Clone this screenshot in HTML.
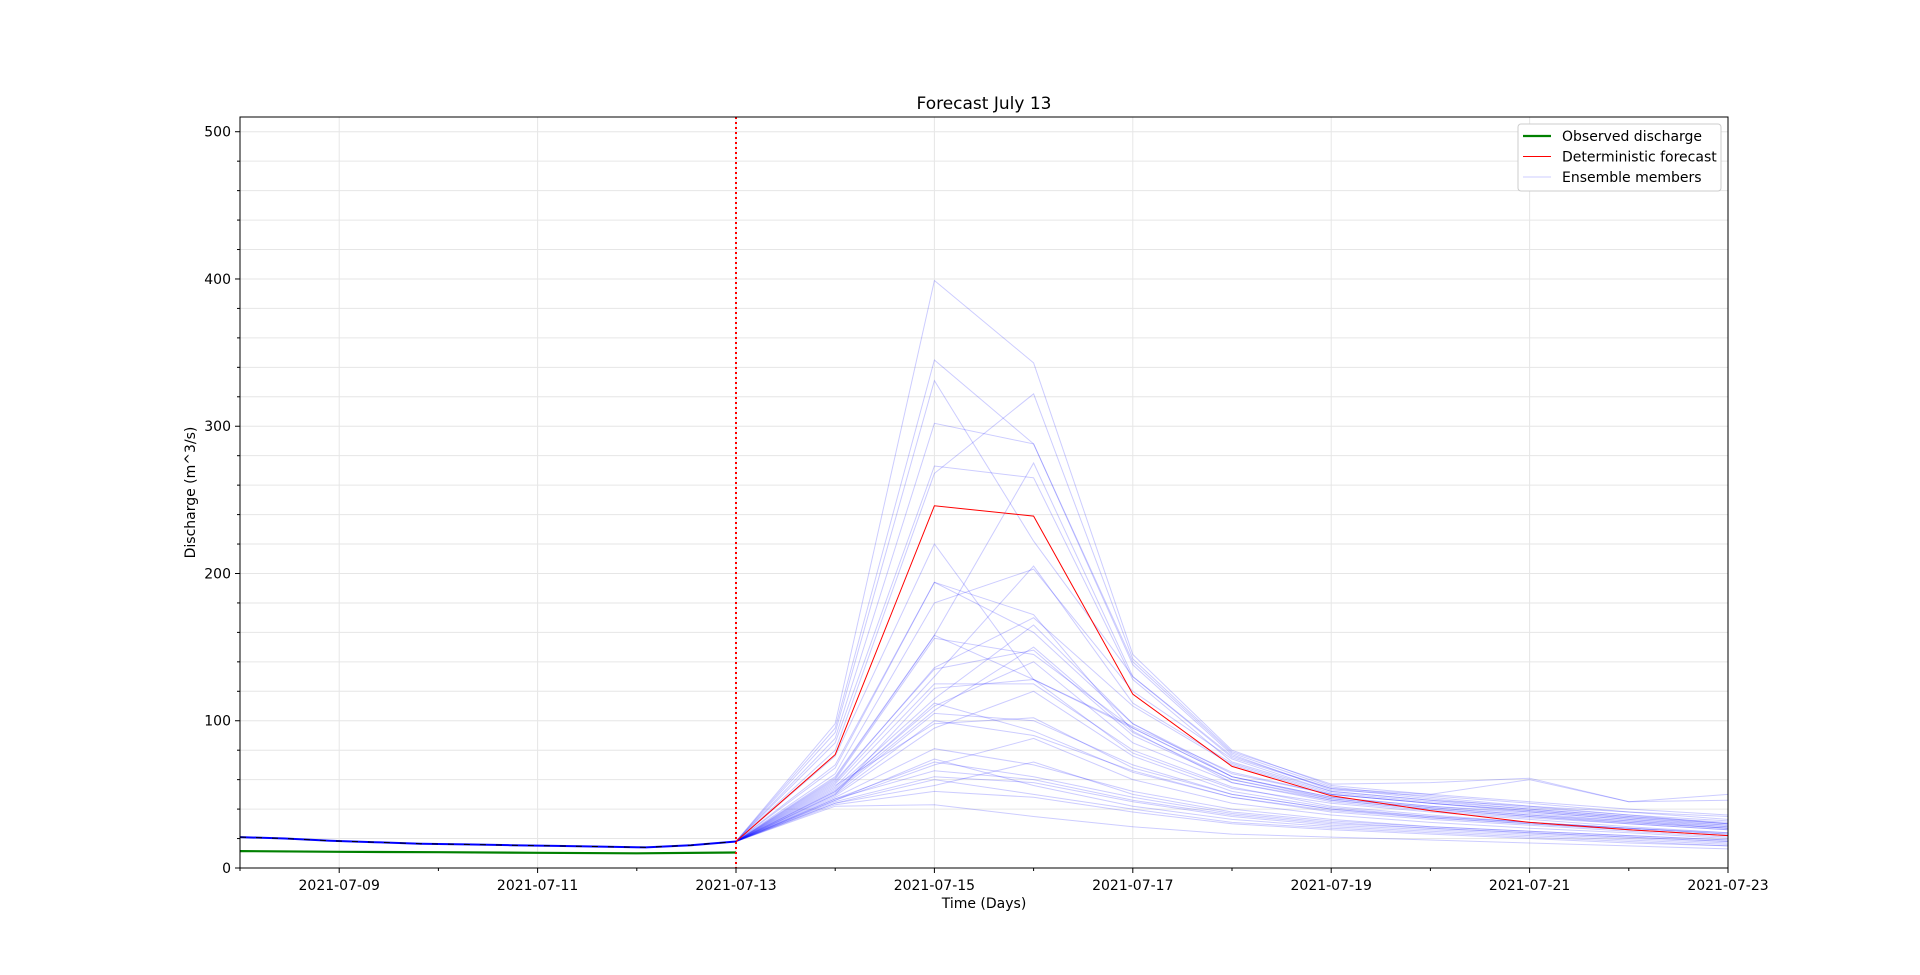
<!DOCTYPE html>
<html><head><meta charset="utf-8"><style>
html,body{margin:0;padding:0;background:#fff;}
svg{display:block;font-family:"DejaVu Sans","Liberation Sans",sans-serif;}
</style></head><body>
<svg id="chart" width="1920" height="975"></svg>
<script>
const observed=[11.5,11,10.7,10.3,10,10.5,11,10.5,10,10,10];
const simVals=[21,20,18.5,17.5,16.5,16,15.5,15,14.5,14,15.5,18];
const detForecast=[18,77,246,239,118,69,49,39,31,26,22];
const ensemble=[
[18,98,399,343,145,80,56,50,45,40,36],
[18,95,345,288,140,78,55,48,42,38,33],
[18,92,331,222,130,76,54,50,60,45,50],
[18,88,302,288,138,77,53,49,44,38,35],
[18,85,273,265,128,72,52,46,42,36,30],
[18,80,268,322,142,79,57,58,61,45,46],
[18,76,220,128,95,62,48,42,38,33,28],
[18,70,194,160,98,64,50,44,39,34,30],
[18,68,194,172,93,58,46,40,35,31,27],
[18,64,180,203,120,74,52,46,40,35,31],
[18,62,158,275,130,75,54,47,41,36,32],
[18,60,156,145,95,62,48,42,37,32,28],
[18,58,136,170,110,70,50,44,39,34,29],
[18,57,130,205,112,71,51,45,40,35,30],
[18,55,125,125,80,55,42,36,31,27,24],
[18,54,115,165,98,62,47,41,36,32,27],
[18,53,110,140,85,58,45,39,34,30,26],
[18,52,107,150,92,60,46,40,35,30,26],
[18,51,105,100,70,50,40,34,30,26,22],
[18,50,100,90,66,48,38,33,29,25,21],
[18,49,95,120,76,52,41,35,31,27,23],
[18,48,81,70,52,40,33,28,25,22,19],
[18,47,72,62,48,37,31,27,24,21,18],
[18,46,70,88,60,44,36,31,27,24,20],
[18,45,62,58,45,35,29,26,23,20,17],
[18,44,60,50,40,31,27,24,21,18,15],
[18,43,52,48,38,30,26,23,20,17,15],
[18,42,43,35,28,23,21,19,17,15,13],
[18,50,122,128,78,54,44,38,33,28,24],
[18,56,98,102,68,50,40,35,31,27,23],
[18,59,135,148,90,60,47,41,36,31,27],
[18,47,66,60,46,36,30,27,24,21,18],
[18,44,56,72,50,38,32,28,25,22,19],
[18,52,112,93,65,48,39,34,30,26,22],
[18,61,158,128,96,65,50,44,38,33,29],
[18,46,74,56,42,33,28,25,22,19,16]
];
const xTickLabels=["2021-07-09","2021-07-11","2021-07-13","2021-07-15","2021-07-17","2021-07-19","2021-07-21","2021-07-23"];
const xTickDays=[1,3,5,7,9,11,13,15];
const yTicks=[0,100,200,300,400,500];

const L=240,R=1728,T=117,B=868,XMAX=15,YMAX=510;
const X=d=>L+(d/XMAX)*(R-L);
const Y=v=>B-(v/YMAX)*(B-T);
const NS="http://www.w3.org/2000/svg";
const svg=document.getElementById('chart');
function el(tag,attrs,parent){const e=document.createElementNS(NS,tag);for(const k in attrs)e.setAttribute(k,attrs[k]);(parent||svg).appendChild(e);return e;}
const clip=el('clipPath',{id:'clip'});el('rect',{x:L,y:T,width:R-L,height:B-T},clip);

const grid=el('g',{});


for(let v=0;v<=YMAX;v+=20){el('line',{x1:L,x2:R,y1:Y(v),y2:Y(v),stroke:'#e6e6e6','stroke-width':1},grid);}
xTickDays.forEach(d=>el('line',{x1:X(d),x2:X(d),y1:T,y2:B,stroke:'#e6e6e6'},grid));

const plot=el('g',{'clip-path':'url(#clip)'});
function poly(vals,start,step,attrs,name){
  const p=vals.map((v,i)=>X(start+i*step).toFixed(1)+','+Y(v).toFixed(1)).join(' ');
  const e=el('polyline',Object.assign({points:p,fill:'none'},attrs),plot);
  
  
  return e;
}
ensemble.forEach(m=>poly(m,5,1,{stroke:'rgba(0,0,255,0.2)','stroke-width':1},'ensemble-member'));
poly(observed.slice(0,6),0,1,{stroke:'#008000','stroke-width':2.2},'observed-line');
poly(simVals,0,5/11,{stroke:'#0000ff','stroke-width':2},'simulated-line');
poly(simVals,0,5/11,{stroke:'#000','stroke-width':1,'stroke-dasharray':'6,10'},'simulated-dashes');
poly(detForecast,5,1,{stroke:'#ff0000','stroke-width':1},'deterministic-line');
const fl=el('line',{x1:X(5),x2:X(5),y1:T,y2:B,stroke:'#ff0000','stroke-width':2,'stroke-dasharray':'2,3'});



const frame=el('rect',{x:L,y:T,width:R-L,height:B-T,fill:'none',stroke:'#000','stroke-width':1});



for(let d=0;d<=15;d++){el('line',{x1:X(d),x2:X(d),y1:B,y2:B+(xTickDays.includes(d)?5:3),stroke:'#000'});}
xTickDays.forEach((d,i)=>{const t=el('text',{x:X(d),y:B+22,'text-anchor':'middle','font-size':14});t.textContent=xTickLabels[i];
});
for(let v=0;v<=YMAX;v+=20){el('line',{x1:L,x2:L-(v%100===0?5:3),y1:Y(v),y2:Y(v),stroke:'#000'});}
yTicks.forEach(v=>{const t=el('text',{x:L-9,y:Y(v)+5,'text-anchor':'end','font-size':14});t.textContent=v;
});

const title=el('text',{x:(L+R)/2,y:109,'text-anchor':'middle','font-size':17});title.textContent='Forecast July 13';

const xt=el('text',{x:(L+R)/2,y:908,'text-anchor':'middle','font-size':14});xt.textContent='Time (Days)';

const yt=el('text',{x:0,y:0,'text-anchor':'middle','font-size':14,transform:`translate(195,${(T+B)/2}) rotate(-90)`});yt.textContent='Discharge (m^3/s)';


const lg=el('g',{});


el('rect',{x:1518,y:124,width:203,height:67,rx:3,fill:'#fff',stroke:'#ccc'},lg);
const items=[['Observed discharge','#008000',2.2],['Deterministic forecast','#ff0000',1],['Ensemble members','rgba(0,0,255,0.2)',1]];
items.forEach((it,i)=>{const y=137+i*20.5;
el('line',{x1:1523,x2:1551,y1:y-1,y2:y-1,stroke:it[1],'stroke-width':it[2]},lg);
const t=el('text',{x:1562,y:y+4,'font-size':14},lg);t.textContent=it[0];
});
</script>
</body></html>
